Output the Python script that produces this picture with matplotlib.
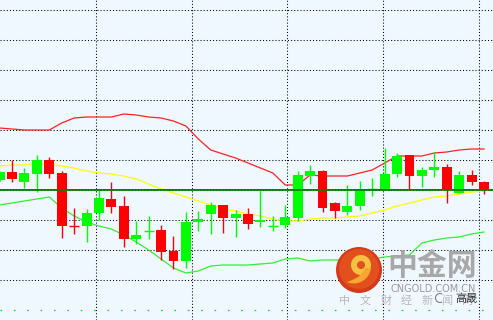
import matplotlib
matplotlib.use("Agg")
import matplotlib.pyplot as plt
from matplotlib.patches import Circle, Wedge, PathPatch, Arc
from matplotlib.path import Path
import numpy as np

# ---------------- data ----------------
opens = [1263.0, 1263.8, 1262.8, 1263.6, 1265.0, 1263.7, 1258.5, 1258.4, 1259.7, 1261.1,
         1260.4, 1257.1, 1257.9, 1258.0, 1255.9, 1254.9, 1258.8, 1259.6, 1260.5, 1259.2,
         1259.6, 1258.8, 1258.4, 1258.5, 1259.2, 1263.4, 1263.9, 1260.7, 1259.8, 1260.4,
         1262.1, 1262.1, 1263.6, 1265.5, 1263.4, 1264.0, 1264.3, 1261.7, 1263.5, 1262.8]
highs = [1263.9, 1265.0, 1264.2, 1265.5, 1265.3, 1263.9, 1260.2, 1260.1, 1262.0, 1262.8,
         1261.4, 1258.9, 1259.4, 1258.5, 1257.4, 1259.8, 1259.9, 1260.8, 1260.5, 1260.0,
         1260.2, 1262.1, 1259.4, 1260.5, 1263.9, 1264.5, 1264.0, 1260.8, 1262.5, 1262.9,
         1263.2, 1266.2, 1265.7, 1265.5, 1264.3, 1265.8, 1264.6, 1263.9, 1264.0, 1262.9]
lows = [1262.9, 1262.8, 1262.2, 1261.8, 1263.2, 1257.2, 1257.6, 1256.8, 1259.0, 1259.7,
        1256.3, 1256.6, 1257.1, 1255.0, 1254.1, 1254.2, 1257.9, 1257.6, 1257.7, 1257.3,
        1258.1, 1258.3, 1257.9, 1258.2, 1258.9, 1262.6, 1259.8, 1259.2, 1259.5, 1260.0,
        1261.4, 1262.1, 1263.3, 1262.1, 1262.3, 1263.3, 1260.7, 1261.7, 1262.5, 1261.6]
closes = [1263.8, 1263.1, 1263.7, 1265.0, 1263.6, 1258.4, 1258.4, 1259.7, 1261.2, 1260.3,
          1257.1, 1257.5, 1258.0, 1255.8, 1254.9, 1258.8, 1259.1, 1260.5, 1259.2, 1259.6,
          1258.6, 1259.0, 1258.5, 1259.3, 1263.5, 1263.9, 1260.2, 1259.9, 1260.4, 1262.0,
          1262.2, 1263.6, 1265.4, 1263.4, 1264.0, 1264.3, 1262.1, 1263.5, 1262.8, 1262.1]

boll_upper = [1268.2, 1268.1, 1268.0, 1268.0, 1268.0, 1268.7, 1269.2, 1269.3, 1269.3, 1269.3,
              1269.6, 1269.5, 1269.3, 1269.2, 1268.9, 1268.4, 1267.1, 1266.0, 1265.6, 1265.2,
              1264.7, 1264.2, 1263.7, 1262.5, 1262.5, 1263.5, 1263.4, 1263.4, 1263.4, 1263.7,
              1264.0, 1264.7, 1265.4, 1265.4, 1265.4, 1265.7, 1265.8, 1266.0, 1266.1, 1266.1]
boll_mid = [1264.4, 1264.5, 1264.5, 1264.6, 1264.6, 1264.4, 1264.2, 1263.9, 1263.7, 1263.6,
            1263.4, 1263.1, 1262.6, 1262.1, 1261.7, 1261.3, 1260.9, 1260.5, 1260.1, 1259.9,
            1259.6, 1259.4, 1259.1, 1258.9, 1258.9, 1259.1, 1259.2, 1259.2, 1259.3, 1259.4,
            1259.7, 1260.0, 1260.4, 1260.7, 1261.0, 1261.3, 1261.4, 1261.6, 1261.8, 1261.9]
boll_lower = [1260.5, 1260.7, 1260.9, 1261.1, 1261.3, 1260.2, 1259.4, 1258.8, 1258.4, 1258.1,
              1257.5, 1256.8, 1256.0, 1255.1, 1254.2, 1253.7, 1253.9, 1254.4, 1254.5, 1254.5,
              1254.5, 1254.6, 1254.7, 1255.1, 1255.2, 1254.9, 1255.0, 1255.0, 1255.0, 1255.0,
              1255.1, 1255.3, 1255.4, 1255.5, 1256.7, 1257.0, 1257.2, 1257.3, 1257.6, 1257.8]

ref_red = 1262.1
ref_green = 1261.98
grid_levels = [1280, 1277, 1274, 1271, 1268, 1265, 1262, 1259, 1256, 1253]
bottom_level = 1250
vgrid_idx = [7.74, 15.47, 23.16, 30.89, 38.62]

watermark_big = "中金网"
watermark_url = "CNGOLD.COM.CN"
watermark_sub = ["中", "文", "财", "经", "新", "闻", "网"]
overlay_name = "高晟"

# ---------------- figure ----------------
W, H = 493, 320
fig = plt.figure(figsize=(W / 100, H / 100), dpi=100)
fig.patch.set_facecolor("#F0F8FF")
ax = fig.add_axes([0, 0, 1, 1])
ax.set_facecolor("#F0F8FF")
for s in ax.spines.values():
    s.set_visible(False)
ax.set_xticks([])
ax.set_yticks([])

n = len(opens)
x = np.arange(n)
ax.set_xlim(0.032, 39.725)
ax.set_ylim(1249, 1281)

# grid
for g in grid_levels:
    ax.axhline(g, color="black", lw=0.75, ls=(0, (1, 2)), zorder=0.5)
ax.axhline(bottom_level, color="#00E000", lw=0.9, ls=(0, (1.3, 9.4)), zorder=0.5)
for v in vgrid_idx:
    ax.axvline(v, color="black", lw=0.75, ls=(0, (1, 2)), zorder=0.5)

# bollinger bands
ax.plot(x, boll_upper, color="#FF2020", lw=0.9, zorder=1)
ax.plot(x, boll_mid, color="#FFFF00", lw=0.9, zorder=1)
ax.plot(x, boll_lower, color="#33EE33", lw=0.9, zorder=1)

# candles
bw = 0.8
for i in range(n):
    o, h, l, c = opens[i], highs[i], lows[i], closes[i]
    col = "#00FF00" if c >= o else "#FF0000"
    ax.vlines(i, l, h, color=col, lw=1.0, zorder=2)
    bot = min(o, c)
    ht = abs(c - o)
    if ht < 0.15:
        ax.hlines((o + c) / 2, i - bw / 2, i + bw / 2, color=col, lw=1.0, zorder=2)
    else:
        ax.bar(i, ht, bottom=bot, width=bw, color=col, edgecolor=col, lw=0, zorder=2)

# reference lines
ax.axhline(ref_green, color="#008000", lw=1.2, zorder=3)
ax.axhline(ref_red, color="#FF0000", lw=0.7, zorder=3)

# ---------------- watermark (pixel overlay) ----------------
ov = fig.add_axes([0, 0, 1, 1])
ov.set_xlim(0, W)
ov.set_ylim(H, 0)
ov.set_aspect("auto")
ov.axis("off")
ov.patch.set_alpha(0)

cx, cy, r = 359, 270, 23
ov.add_patch(Circle((cx, cy), r, facecolor="#D43A1A", edgecolor="none", zorder=5))
ov.add_patch(Circle((cx, cy - 1), r - 3, facecolor="#E2501E", edgecolor="none", zorder=5))
ov.add_patch(Wedge((cx + 2, cy - 5), 10, 0, 360, width=6, facecolor="#F8C040", edgecolor="none", zorder=6))
tail = Path([(cx + 12, cy - 2), (cx + 10, cy + 12), (cx - 4, cy + 16), (cx - 12, cy + 12),
             (cx - 6, cy + 10), (cx + 4, cy + 6), (cx + 6, cy - 2), (cx + 12, cy - 2)],
            [Path.MOVETO, Path.CURVE4, Path.CURVE4, Path.CURVE4,
             Path.CURVE4, Path.CURVE4, Path.CURVE4, Path.CLOSEPOLY])
ov.add_patch(PathPatch(tail, facecolor="#F5A830", edgecolor="none", zorder=6))

ov.text(432.5, 266, watermark_big, fontsize=21.5, fontweight="bold", color="#A8A8A8",
        family=["Noto Sans CJK SC", "DejaVu Sans"], ha="center", va="center", zorder=6)
ov.text(433, 288.5, watermark_url, fontsize=7, color="#9A9A9A",
        family="DejaVu Sans", ha="center", va="center", zorder=6)
for k, ch in enumerate(watermark_sub):
    ov.text(345 + k * 20.5, 301, ch, fontsize=8, color="#B8B8B8",
            family=["Noto Sans CJK SC", "DejaVu Sans"], ha="center", va="center", zorder=6)
ov.add_patch(Arc((440, 298), 9, 9, theta1=60, theta2=300, color="#808080", lw=0.8, zorder=7))
ov.text(467, 298.5, overlay_name, fontsize=8, color="#333333",
        family=["Noto Sans CJK SC", "DejaVu Sans"], ha="center", va="center", zorder=7)

fig.savefig("out.png", dpi=100, facecolor=fig.get_facecolor())
